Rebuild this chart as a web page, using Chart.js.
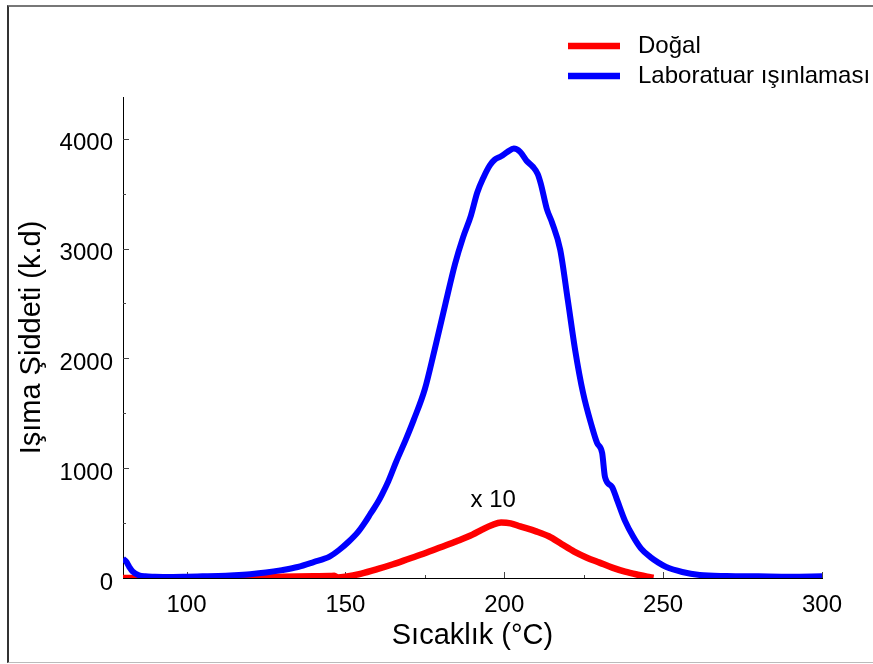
<!DOCTYPE html>
<html>
<head>
<meta charset="utf-8">
<script src="https://cdn.jsdelivr.net/npm/chart.js@4.4.1/dist/chart.umd.min.js"></script>
<style>
  html, body { margin: 0; padding: 0; background: #fff; }
  #wrap { position: relative; width: 873px; height: 664px; overflow: hidden; }
  #wrap canvas { position: absolute; left: 0; top: 0; }
  #frame {
    position: absolute; left: 7px; top: 5px; width: 900px; height: 658px;
    box-sizing: border-box; pointer-events: none;
    border-top: 2px solid #777; border-left: 2px solid #333; border-bottom: 1px solid #bbb;
  }
</style>
</head>
<body>
<div id="wrap">
  <canvas id="tl" width="873" height="664"></canvas>
  <div id="frame"></div>
</div>
<script>
// Natural sample (glow curve, plotted ×10)
const dogalTemp = [80, 90, 100, 110, 120, 130, 140, 145, 146.5, 147.5, 150, 155, 160, 165, 170, 175, 180, 185, 190, 193, 196, 199, 202, 205, 210, 214, 218, 222, 226, 230, 234, 238, 242, 245, 247];
const dogalCounts = [0, 2, 3, 5, 8, 12, 16, 18, 20, 5, 12, 40, 80, 125, 175, 225, 280, 335, 395, 440, 480, 505, 498, 470, 425, 380, 310, 240, 185, 140, 95, 58, 30, 12, 3];

// Laboratory-irradiated sample
const labTemp = [80, 81, 82, 83, 85, 87, 90, 95, 100, 105, 110, 115, 120, 125, 130, 135, 140, 145, 148, 151, 154, 156, 158, 160, 161.5, 163.5, 166, 169, 171.5, 175, 178, 181.5, 184.5, 187, 189.5, 191.5, 193.5, 195.5, 197, 199, 201, 203, 205, 207, 209, 210.5, 211.5, 213.4, 215, 217.6, 220, 222.3, 224.8, 227.6, 229.2, 230.8, 231.7, 233.9, 235.5, 238, 240.6, 243, 246, 248.5, 251, 256, 261.5, 270, 280, 290, 300];
const labCounts = [175, 150, 100, 60, 25, 15, 12, 10, 12, 15, 18, 25, 35, 50, 72, 100, 145, 195, 255, 330, 420, 500, 590, 680, 760, 880, 1060, 1260, 1440, 1720, 2070, 2500, 2860, 3100, 3300, 3510, 3650, 3760, 3810, 3840, 3880, 3910, 3880, 3800, 3745, 3680, 3590, 3360, 3240, 2990, 2530, 2077, 1685, 1376, 1230, 1139, 920, 830, 711, 520, 375, 270, 190, 140, 100, 55, 28, 18, 15, 12, 15];

// Axis ticks
const xTickValues = [100, 125, 150, 175, 200, 225, 250, 275, 300];
const xTickLabels = [100, 150, 200, 250, 300];
const yTickValues = [0, 500, 1000, 1500, 2000, 2500, 3000, 3500, 4000];
const yTickLabels = [0, 1000, 2000, 3000, 4000];

const seriesNames = ['Doğal', 'Laboratuar ışınlaması'];
const seriesColors = ['#ff0000', '#0000ff'];
const scaleNote = 'x 10';
const scaleNoteAt = [196.5, 711];

const FONT = '"Liberation Sans", Arial, Helvetica, sans-serif';

const toPoints = (xs, ys) => xs.map((x, i) => ({ x, y: ys[i] }));

// Short inward tick marks on both axes
const tickMarks = {
  id: 'tickMarks',
  beforeDatasetsDraw(chart) {
    const { ctx, chartArea: a, scales: { x, y } } = chart;
    ctx.save();
    ctx.strokeStyle = '#444';
    ctx.lineWidth = 1;
    ctx.beginPath();
    xTickValues.forEach(v => {
      const px = Math.round(x.getPixelForValue(v)) + 0.5;
      const len = xTickLabels.includes(v) ? 6 : 3;
      ctx.moveTo(px, a.bottom);
      ctx.lineTo(px, a.bottom - len);
    });
    yTickValues.forEach(v => {
      if (v === 0) return;
      const py = Math.round(y.getPixelForValue(v)) + 0.5;
      const len = yTickLabels.includes(v) ? 6 : 3;
      ctx.moveTo(a.left, py);
      ctx.lineTo(a.left + len, py);
    });
    ctx.stroke();
    ctx.restore();
  }
};

// Legend lines and the scale note above the natural curve
const legendAndNote = {
  id: 'legendAndNote',
  afterDraw(chart) {
    const { ctx, scales: { x, y } } = chart;
    ctx.save();
    ctx.font = '24px ' + FONT;
    ctx.textBaseline = 'middle';
    ctx.fillStyle = '#000';
    seriesNames.forEach((name, i) => {
      const ly = 46 + i * 30;
      ctx.strokeStyle = seriesColors[i];
      ctx.lineWidth = 6.5;
      ctx.beginPath();
      ctx.moveTo(568, ly);
      ctx.lineTo(620, ly);
      ctx.stroke();
      ctx.fillText(name, 638, ly);
    });
    ctx.textAlign = 'center';
    ctx.fillText(scaleNote, x.getPixelForValue(scaleNoteAt[0]), y.getPixelForValue(scaleNoteAt[1]));
    ctx.restore();
  }
};

new Chart(document.getElementById('tl'), {
  type: 'line',
  data: {
    datasets: [
      {
        label: seriesNames[0],
        data: toPoints(dogalTemp, dogalCounts),
        borderColor: seriesColors[0],
        borderWidth: 6.5,
        pointRadius: 0,
        cubicInterpolationMode: 'monotone',
        borderJoinStyle: 'round',
        order: 1
      },
      {
        label: seriesNames[1],
        data: toPoints(labTemp, labCounts),
        borderColor: seriesColors[1],
        borderWidth: 6,
        pointRadius: 0,
        cubicInterpolationMode: 'monotone',
        borderJoinStyle: 'round',
        order: 0
      }
    ]
  },
  options: {
    responsive: false,
    animation: false,
    devicePixelRatio: 1,
    layout: { padding: { top: 97, right: 51, left: 0, bottom: 0 } },
    plugins: { legend: { display: false }, tooltip: { enabled: false } },
    scales: {
      x: {
        type: 'linear',
        min: 80,
        max: 300,
        grid: { display: false, drawTicks: false },
        border: { display: true, color: '#000', width: 1 },
        afterBuildTicks: s => { s.ticks = xTickValues.map(v => ({ value: v })); },
        afterFit: s => { s.height = 86; },
        ticks: {
          color: '#000',
          font: { family: FONT, size: 24 },
          padding: 13,
          maxRotation: 0,
          autoSkip: false,
          callback: v => (xTickLabels.includes(v) ? String(v) : '')
        },
        title: {
          display: true,
          text: 'Sıcaklık (°C)',
          color: '#000',
          font: { family: FONT, size: 29 },
          padding: { top: 0, bottom: 11 }
        }
      },
      y: {
        type: 'linear',
        min: 0,
        max: 4380,
        grid: { display: false, drawTicks: false },
        border: { display: true, color: '#000', width: 1 },
        afterBuildTicks: s => { s.ticks = yTickValues.map(v => ({ value: v })); },
        afterFit: s => { s.width = 123; },
        ticks: {
          color: '#000',
          font: { family: FONT, size: 24 },
          padding: 10,
          labelOffset: 5,
          autoSkip: false,
          callback: v => (yTickLabels.includes(v) ? String(v) : '')
        },
        title: {
          display: true,
          text: 'Işıma Şiddeti (k.d)',
          color: '#000',
          font: { family: FONT, size: 29 },
          padding: { top: 15, bottom: 0 }
        }
      }
    }
  },
  plugins: [tickMarks, legendAndNote]
});
</script>
</body>
</html>
